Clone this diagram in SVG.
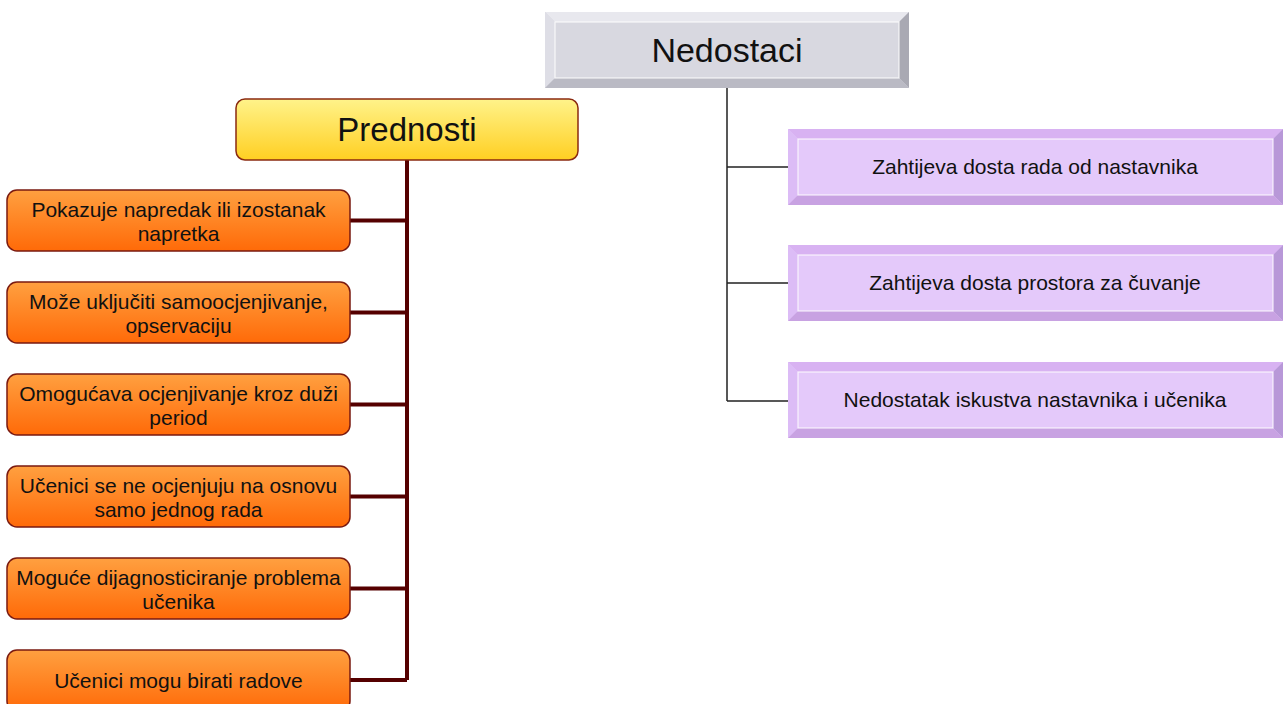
<svg xmlns="http://www.w3.org/2000/svg" width="1284" height="704" viewBox="0 0 1284 704">
<style>
.t{font-family:"Liberation Sans",Arial,sans-serif;fill:#111;text-anchor:middle}
.big{font-size:34px}
.mid{font-size:33px}
.sm{font-size:21px}
.ob{fill:url(#og);stroke:#7a1a10;stroke-width:1.5}
.yb{fill:url(#yg);stroke:#8a2a10;stroke-width:1.5}
.mar{stroke:#550000;stroke-width:4;fill:none}
.blk{stroke:#222;stroke-width:1.5;fill:none}
.hl{fill:none;stroke:#fff;stroke-width:1.2;opacity:.8}
</style>
<defs>
<linearGradient id="og" x1="0" y1="0" x2="0" y2="1"><stop offset="0" stop-color="#ffa040"/><stop offset="1" stop-color="#ff6a08"/></linearGradient>
<linearGradient id="yg" x1="0" y1="0" x2="0" y2="1"><stop offset="0" stop-color="#fff38a"/><stop offset="1" stop-color="#ffcf22"/></linearGradient>
</defs>
<rect width="1284" height="704" fill="#fff"/>
<g id="connectors">
<path class="mar" d="M407 160V680M350 220.5H407M350 312.5H407M350 404.5H407M350 496.5H407M350 588.5H407M350 680H407"/>
<path class="blk" d="M727 88V401M727 167H788M727 283H788M727 401H788"/>
</g>
<g id="n-nedostaci">
<rect x="545" y="12" width="364" height="76" fill="#d8d8e0"/>
<polygon points="545,12 909,12 899,22 555,22" fill="#e8e8ee"/>
<polygon points="545,12 555,22 555,78 545,88" fill="#dedee6"/>
<polygon points="909,12 909,88 899,78 899,22" fill="#a9a9b3"/>
<polygon points="545,88 555,78 899,78 909,88" fill="#babac4"/>
<rect class="hl" x="555" y="22" width="344" height="56"/>
<text class="t big" x="727" y="62">Nedostaci</text>
</g>
<g id="n-prednosti">
<rect class="yb" x="236" y="99" width="342" height="61" rx="9"/>
<text class="t mid" x="407" y="141">Prednosti</text>
</g>
<g id="p1"><rect class="ob" x="7" y="190" width="343" height="61" rx="10"/><text class="t sm" x="178.5" y="217">Pokazuje napredak ili izostanak</text><text class="t sm" x="178.5" y="241">napretka</text></g>
<g id="p2"><rect class="ob" x="7" y="282" width="343" height="61" rx="10"/><text class="t sm" x="178.5" y="309">Može uključiti samoocjenjivanje,</text><text class="t sm" x="178.5" y="333">opservaciju</text></g>
<g id="p3"><rect class="ob" x="7" y="374" width="343" height="61" rx="10"/><text class="t sm" x="178.5" y="401">Omogućava ocjenjivanje kroz duži</text><text class="t sm" x="178.5" y="425">period</text></g>
<g id="p4"><rect class="ob" x="7" y="466" width="343" height="61" rx="10"/><text class="t sm" x="178.5" y="493">Učenici se ne ocjenjuju na osnovu</text><text class="t sm" x="178.5" y="517">samo jednog rada</text></g>
<g id="p5"><rect class="ob" x="7" y="558" width="343" height="61" rx="10"/><text class="t sm" x="178.5" y="585">Moguće dijagnosticiranje problema</text><text class="t sm" x="178.5" y="609">učenika</text></g>
<g id="p6"><rect class="ob" x="7" y="650" width="343" height="61" rx="10"/><text class="t sm" x="178.5" y="688">Učenici mogu birati radove</text></g>
<g id="d1">
<rect x="788" y="129" width="495" height="76" fill="#e4c9fa"/>
<polygon points="788,129 1283,129 1273,139 798,139" fill="#d8b2f2"/>
<polygon points="788,129 798,139 798,195 788,205" fill="#dcbcf6"/>
<polygon points="1283,129 1283,205 1273,195 1273,139" fill="#b898d8"/>
<polygon points="788,205 798,195 1273,195 1283,205" fill="#c8a2e2"/>
<rect class="hl" x="798" y="139" width="475" height="56"/>
<text class="t sm" x="1035" y="174">Zahtijeva dosta rada od nastavnika</text>
</g>
<g id="d2">
<rect x="788" y="245" width="495" height="76" fill="#e4c9fa"/>
<polygon points="788,245 1283,245 1273,255 798,255" fill="#d8b2f2"/>
<polygon points="788,245 798,255 798,311 788,321" fill="#dcbcf6"/>
<polygon points="1283,245 1283,321 1273,311 1273,255" fill="#b898d8"/>
<polygon points="788,321 798,311 1273,311 1283,321" fill="#c8a2e2"/>
<rect class="hl" x="798" y="255" width="475" height="56"/>
<text class="t sm" x="1035" y="290">Zahtijeva dosta prostora za čuvanje</text>
</g>
<g id="d3">
<rect x="788" y="362" width="495" height="76" fill="#e4c9fa"/>
<polygon points="788,362 1283,362 1273,372 798,372" fill="#d8b2f2"/>
<polygon points="788,362 798,372 798,428 788,438" fill="#dcbcf6"/>
<polygon points="1283,362 1283,438 1273,428 1273,372" fill="#b898d8"/>
<polygon points="788,438 798,428 1273,428 1283,438" fill="#c8a2e2"/>
<rect class="hl" x="798" y="372" width="475" height="56"/>
<text class="t sm" x="1035" y="407">Nedostatak iskustva nastavnika i učenika</text>
</g>
</svg>
